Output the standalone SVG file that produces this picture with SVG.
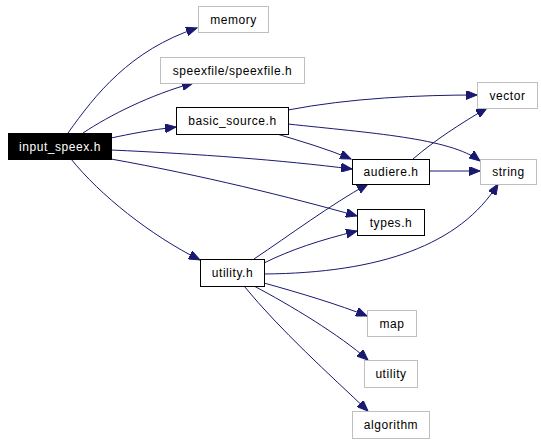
<svg xmlns="http://www.w3.org/2000/svg" width="541" height="443" viewBox="0 0 541 443">
<style>
.n rect{fill:#fff;stroke:#000;stroke-width:1}
.g rect{fill:#fff;stroke:#bfbfbf;stroke-width:1}
text{font-family:"Liberation Sans",Arial,sans-serif;font-size:12px;letter-spacing:0.55px;text-anchor:middle;fill:#000}
#edges path{fill:none;stroke:#191970;stroke-width:1;marker-end:url(#ah)}
</style>
<defs>
<marker id="ah" markerUnits="userSpaceOnUse" markerWidth="12" markerHeight="9" refX="11" refY="4.5" orient="auto">
<path d="M0,0 L11,4.5 L0,9 Z" fill="#191970" stroke="#191970"/>
</marker>
</defs>
<rect width="541" height="443" fill="#fff"/>
<g id="edges">
<path d="M68,133 C95,95 130,50 197,28"/>
<path d="M83,133 C110,115 150,95 193,83"/>
<path d="M111,138 C130,134 150,130 176,127"/>
<path d="M111,150 C200,154 280,160 352,169"/>
<path d="M111,159 C200,175 290,197 357,216"/>
<path d="M71,159 C100,195 150,235 200,260"/>
<path d="M288,110 C350,98 420,95 477,95"/>
<path d="M288,124 C370,133 450,138 480,161"/>
<path d="M277,134 C300,141 328,149 351,159"/>
<path d="M413,159 C435,140 460,124 487,108"/>
<path d="M429,171 L480,171"/>
<path d="M254,259 C290,235 330,205 368,184"/>
<path d="M264,263 C290,250 320,240 357,231"/>
<path d="M264,274 C380,273 460,245 498,184"/>
<path d="M264,283 C300,293 340,305 367,316"/>
<path d="M254,286 C290,305 340,335 368,360"/>
<path d="M244,286 C280,330 330,375 368,411"/>
</g>
<g id="input_speex"><rect x="8.5" y="133.5" width="103" height="26" fill="#000" stroke="#000"/><text x="60" y="151" style="fill:#fff">input_speex.h</text></g>
<g id="memory" class="g"><rect x="198.5" y="6.5" width="70" height="26"/><text x="233.5" y="24">memory</text></g>
<g id="speexfile" class="g"><rect x="160.5" y="57.5" width="144" height="26"/><text x="232.5" y="75">speexfile/speexfile.h</text></g>
<g id="basic_source" class="n"><rect x="176.5" y="107.5" width="112" height="27"/><text x="232.5" y="125">basic_source.h</text></g>
<g id="vector" class="g"><rect x="477.5" y="82.5" width="60" height="26"/><text x="507.5" y="100">vector</text></g>
<g id="audiere" class="n"><rect x="352.5" y="159.5" width="77" height="25"/><text x="391" y="176">audiere.h</text></g>
<g id="string" class="g"><rect x="480.5" y="159.5" width="56" height="25"/><text x="508.5" y="176">string</text></g>
<g id="types" class="n"><rect x="357.5" y="209.5" width="67" height="26"/><text x="391" y="227">types.h</text></g>
<g id="utility_h" class="n"><rect x="200.5" y="259.5" width="64" height="27"/><text x="232.5" y="277">utility.h</text></g>
<g id="map" class="g"><rect x="367.5" y="310.5" width="49" height="26"/><text x="392" y="328">map</text></g>
<g id="utility" class="g"><rect x="364.5" y="360.5" width="53" height="27"/><text x="391" y="378">utility</text></g>
<g id="algorithm" class="g"><rect x="352.5" y="411.5" width="77" height="27"/><text x="391" y="429">algorithm</text></g>
</svg>
